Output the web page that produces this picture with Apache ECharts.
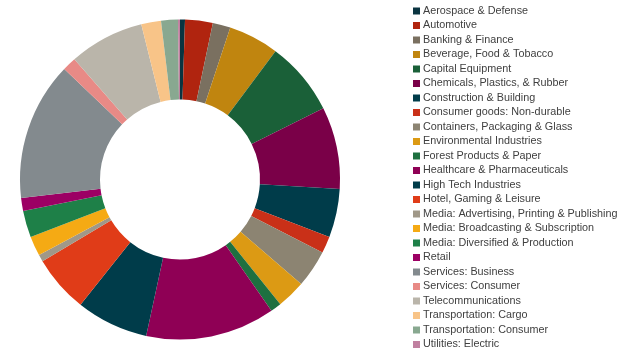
<!DOCTYPE html>
<html><head><meta charset="utf-8">
<script src="https://cdn.jsdelivr.net/npm/echarts@6/dist/echarts.min.js"></script>
<style>html,body{margin:0;padding:0;background:#fff}#c{width:641px;height:350px}</style>
</head><body><div id="c"></div>
<script>
const categories = [
  "Aerospace & Defense","Automotive","Banking & Finance","Beverage, Food & Tobacco",
  "Capital Equipment","Chemicals, Plastics, & Rubber","Construction & Building",
  "Consumer goods: Non-durable","Containers, Packaging & Glass","Environmental Industries",
  "Forest Products & Paper","Healthcare & Pharmaceuticals","High Tech Industries",
  "Hotel, Gaming & Leisure","Media: Advertising, Printing & Publishing",
  "Media: Broadcasting & Subscription","Media: Diversified & Production","Retail",
  "Services: Business","Services: Consumer","Telecommunications","Transportation: Cargo",
  "Transportation: Consumer","Utilities: Electric"
];
const values = [0.5,2.8,1.8,5.1,7.5,8.3,4.9,1.7,3.8,2.9,1.1,13.1,7.3,5.8,0.7,2.0,2.7,1.3,14.0,1.4,7.6,2.0,1.7,0.2];
const colors = ["#0a3440","#b0240f","#7a7060","#c0850f","#1a6038","#7a0048","#003c4a",
  "#c93018","#8c8472","#dc9a14","#1e7040","#8f0055","#003c4a","#e03c18","#a09888",
  "#f5aa14","#1e8048","#9c0064","#838a8e","#e88a86","#bab5aa","#f8c488","#88a890","#c080a0"];

const chart = echarts.init(document.getElementById('c'));
chart.setOption({
  animation:false,
  color: colors,
  legend:{
    orient:'vertical', left:413, top:5.5, height:344.5, padding:0,
    icon:'rect', itemWidth:7, itemHeight:7, itemGap:3.5,
    textStyle:{fontFamily:'Liberation Sans, Arial', fontSize:10.8, color:'#404040', lineHeight:10, padding:[0,0,0,-2]},
    data: categories
  },
  series:[{
    type:'pie', center:[180,179.5], radius:[80,160], startAngle:90, clockwise:true,
    label:{show:false}, labelLine:{show:false},
    itemStyle:{borderWidth:0},
    emphasis:{disabled:true},
    data: categories.map((n,i)=>({name:n, value:values[i]}))
  }]
});
</script></body></html>
